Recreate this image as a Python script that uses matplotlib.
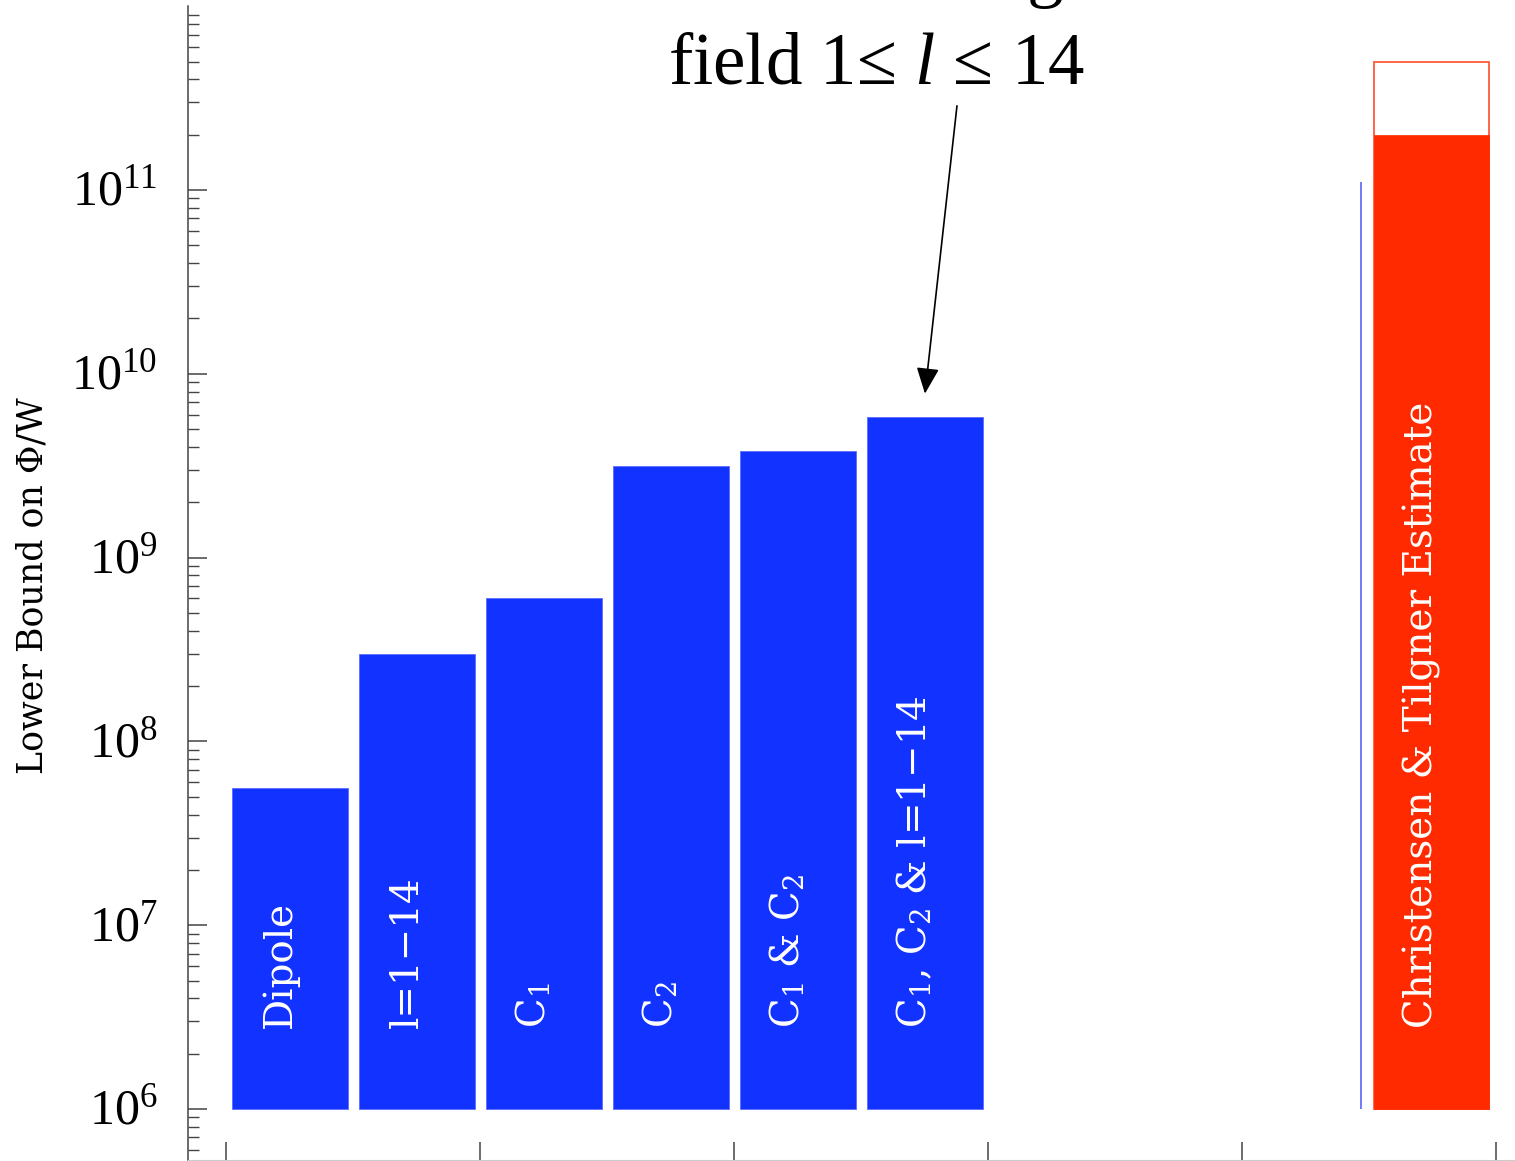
import numpy as np
import matplotlib
matplotlib.use("Agg")
import matplotlib.pyplot as plt

plt.rcParams["mathtext.fontset"] = "custom"
plt.rcParams["mathtext.rm"] = "Liberation Serif"
plt.rcParams["mathtext.it"] = "Liberation Serif:italic"
plt.rcParams["mathtext.sf"] = "DejaVu Serif"

MINUS = "\u2212"
LEQ = "\u2264"

# ---- data -------------------------------------------------------------
bar_labels = [
    "Dipole",
    "l=1" + MINUS + "14",
    r"C$_{\mathsf{1}}$",
    r"C$_{\mathsf{2}}$",
    r"C$_{\mathsf{1}}$ & C$_{\mathsf{2}}$",
    r"C$_{\mathsf{1}}$, C$_{\mathsf{2}}$ & l=1" + MINUS + "14",
]
bar_values = [5.6e7, 3.0e8, 6.0e8, 3.15e9, 3.8e9, 5.8e9]
bar_base = 1e6

estimate_label = "Christensen & Tilgner Estimate"
estimate_low = 2.0e11
estimate_high = 5.0e11
estimate_line_top = 1.1e11

decades = [6, 7, 8, 9, 10, 11]
y_label = "Lower Bound on \u03a6/W"
note_lines = ["Combining", "field 1" + LEQ + r" $\mathit{l}$ " + LEQ + " 14"]

# ---- figure -----------------------------------------------------------
W, H = 1515, 1161
fig = plt.figure(figsize=(W / 100, H / 100), dpi=100)
ax_left, ax_right, ax_top, ax_bot = 188, 1530, 6.2, 1160
ax = fig.add_axes([ax_left / W, (H - ax_bot) / H,
                   (ax_right - ax_left) / W, (ax_bot - ax_top) / H])
ax.set_yscale("log")
ax.set_ylim(5.28e5, 1e12)
ax.set_xlim(-0.303, 10.264)

blue = "#1232ff"
red = "#ff2a00"
label_font = ["DejaVu Serif"]

x = np.arange(len(bar_values)) + 0.5
width = 0.91
heights = np.array(bar_values) - bar_base
ax.bar(x, heights, bottom=bar_base, width=width, color=blue,
       edgecolor="#5a6cff", linewidth=0.6, zorder=2)

x_est = 9.49
ax.bar([x_est], [estimate_high - bar_base], bottom=bar_base, width=width,
       facecolor="white", edgecolor="#ff5a3a", linewidth=1.3, zorder=2)
ax.bar([x_est], [estimate_low - bar_base], bottom=bar_base, width=width,
       color=red, edgecolor=red, linewidth=0.5, zorder=3)
ax.vlines(x_est - 0.56, bar_base, estimate_line_top, color="#5a64f0",
          linewidth=1.2, zorder=3)

label_y = 2.75e6
for xi, lab in zip(list(x) + [x_est], bar_labels + [estimate_label]):
    ax.text(xi + 0.01, label_y, lab, rotation=90, rotation_mode="anchor",
            ha="left", va="baseline", color="white", fontsize=28,
            family=label_font, zorder=5)

# ---- axes styling -----------------------------------------------------
for s in ["top", "right"]:
    ax.spines[s].set_visible(False)
ax.spines["left"].set_color("#444444")
ax.spines["left"].set_linewidth(1.1)
ax.spines["bottom"].set_color("#cccccc")
ax.spines["bottom"].set_linewidth(0.8)

ax.set_xticks(np.arange(0, 11, 2))
ax.set_xticklabels([])
ax.tick_params(axis="x", direction="in", length=13, width=1.1,
               color="#444444")
ax.set_yticks([10.0 ** d for d in decades])
ax.set_yticklabels([])
ax.yaxis.set_minor_locator(matplotlib.ticker.LogLocator(base=10,
                           subs=np.arange(2, 10), numticks=20))
ax.yaxis.set_minor_formatter(matplotlib.ticker.NullFormatter())
ax.tick_params(axis="y", which="major", direction="in", length=13.7,
               width=1.1, color="#444444")
ax.tick_params(axis="y", which="minor", direction="in", length=7.9,
               width=1.0, color="#444444")

for d in decades:
    ax.annotate(r"$10^{%d}$" % d, xy=(0, 10.0 ** d),
                xycoords=("axes fraction", "data"),
                xytext=(-22.0, -10.8), textcoords="offset points",
                ha="right", va="baseline", fontsize=36, color="black")

fig.text(33 / W, 1 - 586 / H, y_label, rotation=90, ha="center",
         va="center", fontsize=25, family=label_font, color="black")

# ---- annotation -------------------------------------------------------
fig.text(1064 / W, 1 + 7 / H, note_lines[0], ha="right", va="baseline",
         fontsize=52.5, family="Liberation Serif")
fig.text(876 / W, 1 - 83 / H, note_lines[1], ha="center", va="baseline",
         fontsize=52.5, family="Liberation Serif")
ax.annotate("", xy=(x[-1], 7.8e9), xytext=(5.752, 2.87e11),
            arrowprops=dict(arrowstyle="-|>,head_length=0.8,head_width=0.35",
                            mutation_scale=20, color="black", lw=1.2,
                            shrinkA=0, shrinkB=0))

fig.savefig("out.png", dpi=100)
